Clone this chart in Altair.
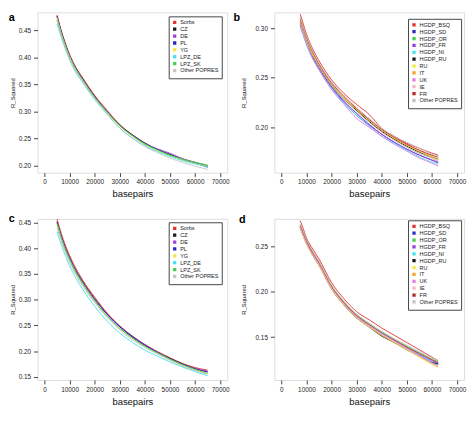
import altair as alt
import pandas as pd

# ---------------- data ----------------
x_ac = [5000, 6000, 7500, 10000, 12500, 15000, 20000, 25000, 30000, 35000,
        40000, 45000, 50000, 55000, 60000, 65000]
x_bd = [7500, 8500, 10000, 12500, 15000, 20000, 25000, 30000, 35000, 40000,
        45000, 50000, 55000, 60000, 62500]

groups_ac = ["Sorbs", "CZ", "DE", "PL", "YG", "LPZ_DE", "LPZ_SK", "Other POPRES"]
colors_ac = ["#e8302e", "#1a1a1a", "#a03ee0", "#2626c8", "#f2ea40", "#44e2ee",
             "#3fd24a", "#c4c4c4"]

groups_bd = ["HGDP_BSQ", "HGDP_SD", "HGDP_OR", "HGDP_FR", "HGDP_NI", "HGDP_RU",
             "RU", "IT", "UK", "IE", "FR", "Other POPRES"]
colors_bd = ["#e8302e", "#2a2ad0", "#3fd24a", "#9a3ee0", "#44e2ee", "#1a1a1a",
             "#f2ea40", "#f4a430", "#e47ce4", "#f6b8c6", "#b02a2a", "#c4c4c4"]

panel_a = {
    "Sorbs":        [0.479, 0.461, 0.438, 0.406, 0.382, 0.364, 0.330, 0.302, 0.276, 0.257, 0.241, 0.230, 0.220, 0.212, 0.206, 0.200],
    "CZ":           [0.477, 0.459, 0.436, 0.404, 0.380, 0.362, 0.328, 0.300, 0.275, 0.257, 0.242, 0.230, 0.221, 0.212, 0.205, 0.199],
    "DE":           [0.476, 0.458, 0.435, 0.403, 0.379, 0.361, 0.327, 0.300, 0.274, 0.256, 0.241, 0.231, 0.223, 0.213, 0.206, 0.198],
    "PL":           [0.475, 0.457, 0.434, 0.402, 0.379, 0.361, 0.327, 0.299, 0.274, 0.256, 0.240, 0.229, 0.220, 0.211, 0.205, 0.197],
    "YG":           [0.474, 0.456, 0.433, 0.402, 0.378, 0.360, 0.326, 0.298, 0.273, 0.255, 0.239, 0.228, 0.219, 0.211, 0.204, 0.199],
    "LPZ_DE":       [0.462, 0.447, 0.426, 0.396, 0.372, 0.355, 0.322, 0.295, 0.269, 0.251, 0.237, 0.226, 0.217, 0.209, 0.203, 0.198],
    "LPZ_SK":       [0.470, 0.453, 0.431, 0.400, 0.377, 0.359, 0.326, 0.299, 0.274, 0.255, 0.240, 0.229, 0.219, 0.212, 0.206, 0.201],
    "Other POPRES": [0.468, 0.451, 0.429, 0.398, 0.375, 0.357, 0.324, 0.296, 0.270, 0.251, 0.235, 0.224, 0.214, 0.206, 0.199, 0.193],
}

panel_c = {
    "Sorbs":        [0.457, 0.440, 0.417, 0.386, 0.361, 0.340, 0.305, 0.274, 0.249, 0.229, 0.213, 0.199, 0.187, 0.176, 0.168, 0.163],
    "CZ":           [0.452, 0.435, 0.412, 0.382, 0.357, 0.337, 0.302, 0.272, 0.248, 0.229, 0.212, 0.198, 0.186, 0.175, 0.166, 0.160],
    "DE":           [0.451, 0.434, 0.411, 0.381, 0.356, 0.336, 0.301, 0.272, 0.248, 0.228, 0.212, 0.198, 0.185, 0.174, 0.166, 0.161],
    "PL":           [0.450, 0.433, 0.410, 0.380, 0.355, 0.335, 0.300, 0.271, 0.247, 0.227, 0.211, 0.197, 0.185, 0.174, 0.165, 0.159],
    "YG":           [0.448, 0.431, 0.408, 0.378, 0.353, 0.333, 0.298, 0.268, 0.244, 0.225, 0.209, 0.196, 0.184, 0.173, 0.164, 0.157],
    "LPZ_DE":       [0.432, 0.417, 0.396, 0.366, 0.342, 0.322, 0.287, 0.258, 0.235, 0.217, 0.202, 0.190, 0.179, 0.169, 0.160, 0.152],
    "LPZ_SK":       [0.447, 0.430, 0.407, 0.377, 0.352, 0.332, 0.297, 0.268, 0.244, 0.225, 0.209, 0.196, 0.184, 0.173, 0.164, 0.156],
    "Other POPRES": [0.440, 0.424, 0.402, 0.372, 0.348, 0.328, 0.294, 0.265, 0.241, 0.222, 0.207, 0.194, 0.182, 0.171, 0.162, 0.155],
}

panel_b = {
    "HGDP_BSQ":     [0.314, 0.306, 0.294, 0.279, 0.267, 0.248, 0.234, 0.223, 0.213, 0.199, 0.191, 0.184, 0.179, 0.174, 0.172],
    "HGDP_SD":      [0.304, 0.297, 0.286, 0.271, 0.260, 0.241, 0.226, 0.214, 0.203, 0.193, 0.185, 0.178, 0.172, 0.167, 0.164],
    "HGDP_OR":      [0.307, 0.299, 0.288, 0.273, 0.262, 0.243, 0.229, 0.217, 0.206, 0.196, 0.188, 0.180, 0.174, 0.169, 0.166],
    "HGDP_FR":      [0.303, 0.296, 0.285, 0.270, 0.259, 0.240, 0.225, 0.212, 0.202, 0.193, 0.185, 0.178, 0.172, 0.167, 0.165],
    "HGDP_NI":      [0.301, 0.294, 0.283, 0.269, 0.258, 0.239, 0.224, 0.212, 0.201, 0.191, 0.184, 0.177, 0.170, 0.165, 0.162],
    "HGDP_RU":      [0.306, 0.298, 0.287, 0.272, 0.261, 0.242, 0.228, 0.217, 0.206, 0.196, 0.188, 0.181, 0.175, 0.170, 0.168],
    "RU":           [0.308, 0.300, 0.289, 0.274, 0.263, 0.244, 0.229, 0.218, 0.207, 0.197, 0.189, 0.182, 0.176, 0.170, 0.167],
    "IT":           [0.309, 0.301, 0.290, 0.275, 0.263, 0.244, 0.230, 0.218, 0.207, 0.197, 0.189, 0.182, 0.176, 0.171, 0.168],
    "UK":           [0.302, 0.295, 0.284, 0.269, 0.258, 0.238, 0.223, 0.209, 0.200, 0.191, 0.183, 0.176, 0.169, 0.164, 0.161],
    "IE":           [0.305, 0.297, 0.286, 0.272, 0.261, 0.242, 0.228, 0.216, 0.205, 0.195, 0.187, 0.180, 0.174, 0.169, 0.166],
    "FR":           [0.310, 0.302, 0.291, 0.276, 0.264, 0.245, 0.231, 0.219, 0.208, 0.198, 0.190, 0.183, 0.177, 0.172, 0.170],
    "Other POPRES": [0.311, 0.303, 0.292, 0.277, 0.265, 0.246, 0.232, 0.220, 0.209, 0.199, 0.191, 0.185, 0.179, 0.173, 0.171],
}

panel_d = {
    "HGDP_BSQ":     [0.278, 0.271, 0.259, 0.247, 0.236, 0.210, 0.192, 0.178, 0.169, 0.160, 0.152, 0.144, 0.136, 0.128, 0.124],
    "HGDP_SD":      [0.271, 0.264, 0.254, 0.241, 0.230, 0.204, 0.186, 0.172, 0.162, 0.152, 0.145, 0.137, 0.130, 0.122, 0.120],
    "HGDP_OR":      [0.274, 0.267, 0.257, 0.244, 0.233, 0.207, 0.189, 0.175, 0.165, 0.156, 0.148, 0.140, 0.133, 0.126, 0.123],
    "HGDP_FR":      [0.272, 0.265, 0.255, 0.242, 0.231, 0.205, 0.187, 0.173, 0.163, 0.154, 0.146, 0.138, 0.131, 0.124, 0.121],
    "HGDP_NI":      [0.270, 0.263, 0.253, 0.241, 0.230, 0.204, 0.186, 0.173, 0.163, 0.154, 0.146, 0.138, 0.131, 0.123, 0.120],
    "HGDP_RU":      [0.270, 0.263, 0.253, 0.240, 0.229, 0.203, 0.185, 0.171, 0.161, 0.151, 0.144, 0.136, 0.129, 0.122, 0.121],
    "RU":           [0.269, 0.262, 0.252, 0.240, 0.229, 0.203, 0.185, 0.171, 0.161, 0.152, 0.144, 0.136, 0.128, 0.120, 0.117],
    "IT":           [0.270, 0.263, 0.253, 0.240, 0.229, 0.204, 0.186, 0.172, 0.162, 0.152, 0.145, 0.137, 0.129, 0.121, 0.117],
    "UK":           [0.271, 0.264, 0.254, 0.241, 0.230, 0.205, 0.187, 0.173, 0.163, 0.153, 0.146, 0.138, 0.130, 0.122, 0.118],
    "IE":           [0.270, 0.263, 0.253, 0.241, 0.230, 0.204, 0.186, 0.172, 0.162, 0.153, 0.145, 0.137, 0.129, 0.121, 0.118],
    "FR":           [0.273, 0.266, 0.256, 0.243, 0.232, 0.206, 0.188, 0.174, 0.164, 0.155, 0.147, 0.139, 0.132, 0.125, 0.122],
    "Other POPRES": [0.274, 0.267, 0.257, 0.244, 0.233, 0.207, 0.189, 0.175, 0.165, 0.156, 0.148, 0.141, 0.134, 0.127, 0.124],
}

x_ticks = [0, 10000, 20000, 30000, 40000, 50000, 60000, 70000]
y_ticks_a = [0.20, 0.25, 0.30, 0.35, 0.40, 0.45]
y_ticks_b = [0.20, 0.25, 0.30]
y_ticks_c = [0.15, 0.20, 0.25, 0.30, 0.35, 0.40, 0.45]
y_ticks_d = [0.15, 0.20, 0.25]

FONT = "Liberation Sans"
W = 193
LBL = 6.5


def panel(xs, series, groups, colors, ydom, yticks, letter, letter_dx, letter_y,
          letter_base, ytitle_pad, height, leg_x, leg_y):
    rows = []
    for g in groups:
        for xv, yv in zip(xs, series[g]):
            rows.append({"bp": xv, "r2": yv, "grp": g})
    df = pd.DataFrame(rows)

    common = dict(labelFontSize=LBL, labelFont=FONT, labelColor="#222",
                  titleFont=FONT, titleColor="#111", titleFontWeight="normal",
                  tickSize=4, tickColor="#444", domain=False, grid=False,
                  labelOverlap=False)

    lines = alt.Chart(df).mark_line(strokeWidth=0.9, interpolate="monotone").encode(
        x=alt.X("bp:Q",
                scale=alt.Scale(domain=[-2800, 72800], nice=False, zero=False),
                axis=alt.Axis(values=x_ticks, format="d", title="basepairs",
                              titleFontSize=9.6, titlePadding=3.5,
                              labelPadding=2.5, labelFlush=False, **common)),
        y=alt.Y("r2:Q",
                scale=alt.Scale(domain=ydom, nice=False, zero=False),
                axis=alt.Axis(values=yticks, format=".2f", title="R_Squared",
                              titleFontSize=6, titlePadding=ytitle_pad,
                              labelPadding=3, **common)),
        color=alt.Color("grp:N",
                        scale=alt.Scale(domain=groups, range=colors),
                        legend=alt.Legend(title=None, orient="none",
                                          legendX=leg_x, legendY=leg_y,
                                          padding=3.3, strokeColor="#444",
                                          fillColor="white",
                                          labelFontSize=5.6, labelFont=FONT,
                                          labelColor="#222",
                                          rowPadding=-3.2, symbolType="square",
                                          symbolSize=3, symbolStrokeWidth=1.6,
                                          labelOffset=2.8)),
    )

    lab = alt.Chart(pd.DataFrame({"t": [letter]})).mark_text(
        fontSize=11, fontWeight="bold", font=FONT, align="left",
        baseline=letter_base, color="black"
    ).encode(text="t:N", x=alt.value(letter_dx), y=alt.value(letter_y))

    return alt.layer(lines, lab).properties(width=W, height=height)


pa = panel(x_ac, panel_a, groups_ac, colors_ac, [0.187, 0.4835], y_ticks_a,
           "a", -29.3, 0, "top", 3, 163, 133.5, 4)
pb = panel(x_bd, panel_b, groups_bd, colors_bd, [0.1544, 0.3158], y_ticks_b,
           "b", -41.6, 0, "top", 8.4, 163, 136, 6.5)
pc = panel(x_ac, panel_c, groups_ac, colors_ac, [0.1437, 0.4574], y_ticks_c,
           "c", -29.3, 3.5, "alphabetic", 3, 164, 133.5, 3.5)
pd_ = panel(x_bd, panel_d, groups_bd, colors_bd, [0.1028, 0.2801], y_ticks_d,
            "d", -36, 4, "alphabetic", 8.5, 164, 136, 1.5)

chart = alt.concat(
    pa, pb, pc, pd_, columns=2, spacing={"row": 47, "column": 48}, bounds="flush"
).resolve_scale(
    color="independent", x="independent", y="independent"
).properties(
    padding={"left": 0, "top": 0, "right": 0, "bottom": 0}
).configure_view(
    stroke="#444", strokeWidth=1
).configure(background="white")

chart.save("out.html", embed_options={"renderer": "svg", "actions": False})
